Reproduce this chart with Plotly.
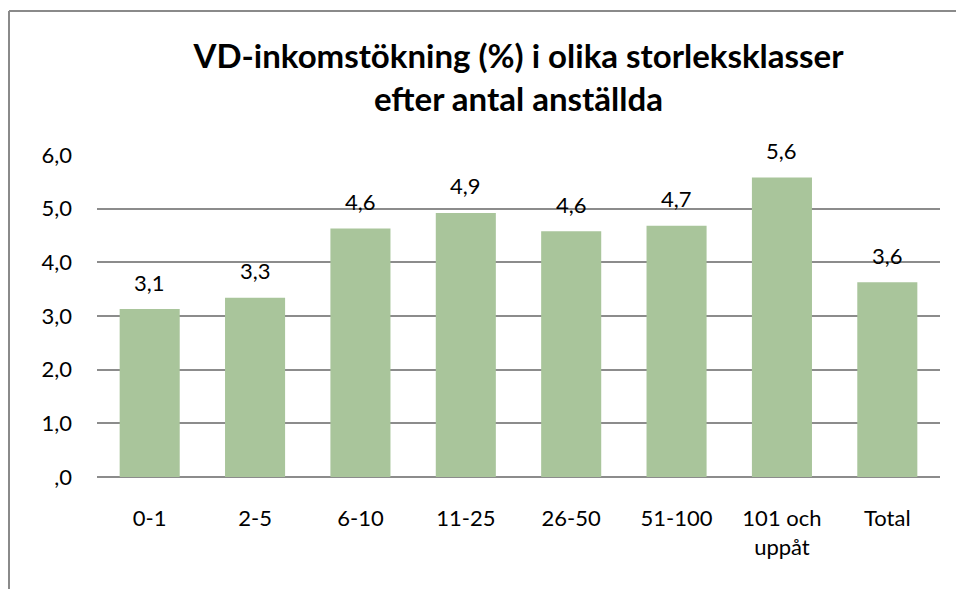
import plotly.graph_objects as go

categories = ["0-1", "2-5", "6-10", "11-25", "26-50", "51-100", "101 och<br>uppåt", "Total"]
values = [3.13, 3.34, 4.63, 4.92, 4.58, 4.68, 5.58, 3.63]
y_tickvals = [0, 1, 2, 3, 4, 5, 6]
y_ticktext = [",0", "1,0", "2,0", "3,0", "4,0", "5,0", "6,0"]
title_text = "VD-inkomstökning (%) i olika storleksklasser<br>efter antal anställda"

FONT = "Lato"
W, H = 956, 589
L, R, T, B = 97, 16, 155, 112

labels = [f"{v:.1f}".replace(".", ",") for v in values]

fig = go.Figure(go.Bar(
    x=categories, y=values,
    marker=dict(color="#A9C59B", line=dict(width=0)),
    hoverinfo="skip",
))

for c, v, t in zip(categories, values, labels):
    fig.add_annotation(x=c, y=v, text=t, showarrow=False, yanchor="middle",
                       yshift=27, font=dict(family=FONT, size=22, color="#000"))

pw = W - L - R
ph = H - T - B
def px_x(p):
    return (p - L) / pw
def px_y(p):
    return (H - B - p) / ph

border = dict(color="#8a8a8a", width=2)
fig.add_shape(type="line", xref="paper", yref="paper", x0=px_x(9), x1=px_x(W + 5),
              y0=px_y(11), y1=px_y(11), line=border)
fig.add_shape(type="line", xref="paper", yref="paper", x0=px_x(9), x1=px_x(9),
              y0=px_y(11), y1=px_y(H + 5), line=border)

fig.update_layout(
    width=W, height=H,
    margin=dict(l=L, r=R, t=T, b=B),
    paper_bgcolor="white", plot_bgcolor="white",
    bargap=0.43,
    showlegend=False,
    title=dict(text=title_text, x=0.5, xanchor="center", xref="paper",
               y=1 - 68 / H, yref="container", yanchor="middle",
               font=dict(family=FONT, size=33, color="#000", weight="bold")),
    font=dict(family=FONT, color="#000"),
)
fig.update_xaxes(showgrid=False, showline=False, ticks="",
                 tickfont=dict(family=FONT, size=22, color="#000"),
                 ticklabelstandoff=26)
fig.update_yaxes(range=[0, 6], tickvals=y_tickvals, ticktext=y_ticktext,
                 showgrid=True, gridcolor="#8c8c8c", gridwidth=1.5,
                 zeroline=True, zerolinecolor="#8c8c8c", zerolinewidth=1.5,
                 showline=False, ticks="",
                 tickfont=dict(family=FONT, size=22, color="#000"),
                 ticklabelstandoff=24)

fig.write_html("out.html", config={"displayModeBar": False},
               post_script="document.body.style.margin='0';document.body.style.overflow='hidden';")
